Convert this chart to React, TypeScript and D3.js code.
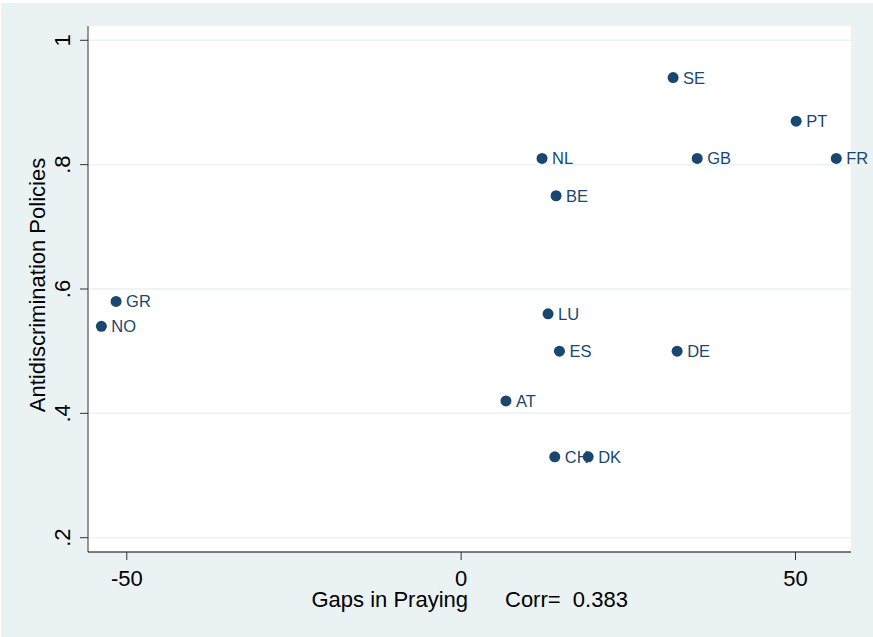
import { useEffect } from 'react';
import * as d3 from 'd3';

// country codes, gap in praying (x), antidiscrimination policies (y)
const countries = ['SE', 'PT', 'NL', 'GB', 'FR', 'BE', 'GR', 'NO', 'LU', 'ES', 'DE', 'AT', 'CH', 'DK'];
const gaps = [31.7, 50.1, 12.1, 35.3, 56.1, 14.2, -51.6, -53.8, 13.0, 14.7, 32.3, 6.7, 14.0, 19.0];
const policies = [0.94, 0.87, 0.81, 0.81, 0.81, 0.75, 0.58, 0.54, 0.56, 0.50, 0.50, 0.42, 0.33, 0.33];

const xTicks = [-50, 0, 50];
const yTicks = [0.2, 0.4, 0.6, 0.8, 1];
const xTitle = 'Gaps in Praying';
const corrLabel = 'Corr=  0.383';
const yTitle = 'Antidiscrimination Policies';

const W = 873;
const H = 637;
const plot = { left: 88, right: 851, top: 26, bottom: 552 };
const navy = '#1a476f';
const bg = '#eaf2f3';
const font = '"Liberation Sans", Arial, Helvetica, sans-serif';

export default function App() {
  useEffect(() => {
    document.body.style.margin = '0';
  }, []);

  const x = d3.scaleLinear().domain([-55.8, 58.3]).range([plot.left, plot.right]);
  const y = d3.scaleLinear().domain([0.177, 1.023]).range([plot.bottom, plot.top]);
  const fmtY = (v: number) => (v === 1 ? '1' : d3.format('.1f')(v).replace(/^0/, ''));

  const cx = (plot.left + plot.right) / 2;
  const cy = (plot.top + plot.bottom) / 2;

  return (
    <svg width={W} height={H} style={{ display: 'block', fontFamily: font }}>
      <rect x={0} y={0} width={W} height={H} fill="#fff" />
      <rect x={1} y={3} width={W - 1} height={H - 3} fill={bg} />
      <rect x={plot.left} y={plot.top} width={plot.right - plot.left} height={plot.bottom - plot.top} fill="#fff" />

      {/* gridlines */}
      {yTicks.map((t) => (
        <line key={'g' + t} x1={plot.left} x2={plot.right} y1={y(t)} y2={y(t)} stroke={bg} strokeWidth={1.5} />
      ))}

      {/* axes */}
      <line x1={plot.left} x2={plot.left} y1={plot.top} y2={plot.bottom} stroke="#555" strokeWidth={1.2} />
      <line x1={plot.left} x2={plot.right} y1={plot.bottom} y2={plot.bottom} stroke="#000" strokeWidth={1.2} />

      {yTicks.map((t) => (
        <g key={'y' + t}>
          <line x1={plot.left - 8} x2={plot.left} y1={y(t)} y2={y(t)} stroke="#333" strokeWidth={1} />
          <text
            transform={`translate(70,${y(t)}) rotate(-90)`}
            textAnchor="middle"
            fontSize={22}
            fill="#000"
          >
            {fmtY(t)}
          </text>
        </g>
      ))}

      {xTicks.map((t) => (
        <g key={'x' + t}>
          <line x1={x(t)} x2={x(t)} y1={plot.bottom} y2={plot.bottom + 8} stroke="#333" strokeWidth={1} />
          <text x={x(t)} y={586} textAnchor="middle" fontSize={22} fill="#000">
            {t}
          </text>
        </g>
      ))}

      {/* titles */}
      <text x={cx - 1.5} y={607} textAnchor="end" fontSize={22} fill="#000">
        {xTitle}
      </text>
      <text x={cx + 35.5} y={607} textAnchor="start" fontSize={22} fill="#000" style={{ whiteSpace: 'pre' }}>
        {corrLabel}
      </text>
      <text transform={`translate(45,${cy - 4}) rotate(-90)`} textAnchor="middle" fontSize={22} fill="#000">
        {yTitle}
      </text>

      {/* points */}
      {countries.map((c, i) => (
        <g key={c}>
          <circle cx={x(gaps[i])} cy={y(policies[i])} r={5.5} fill={navy} />
          <text x={x(gaps[i]) + 10} y={y(policies[i])} dy="0.36em" fontSize={16.5} fill={navy}>
            {c}
          </text>
        </g>
      ))}
    </svg>
  );
}
